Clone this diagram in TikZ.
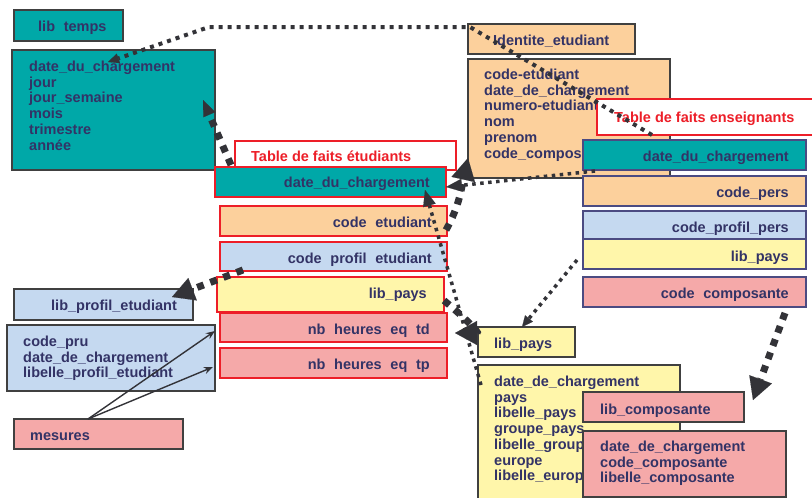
\documentclass[tikz,border=0pt]{standalone}
\usepackage{fontspec}
\setmainfont{Liberation Sans}
\usetikzlibrary{arrows.meta}
\definecolor{tealc}{RGB}{0,168,168}
\definecolor{orangec}{RGB}{252,208,156}
\definecolor{bluec}{RGB}{197,217,240}
\definecolor{yellowc}{RGB}{255,246,170}
\definecolor{pinkc}{RGB}{245,169,169}
\definecolor{redc}{RGB}{237,30,40}
\definecolor{grayb}{RGB}{64,64,64}
\definecolor{navyb}{RGB}{75,75,130}
\definecolor{txtc}{RGB}{51,51,102}
\definecolor{arrc}{RGB}{51,51,56}
\newcommand{\lns}[1]{\begin{tabular}[t]{@{}l@{}}#1\end{tabular}}
\newcommand{\gp}{\hspace{0.6em}}
\newcommand{\bx}[7]{\node[box,fill=#6,draw=#7,minimum width={(#4-#2)*1pt},minimum height={(#5-#3)*1pt}] (#1) at (#2,#3) {};}
\begin{document}
\begin{tikzpicture}[x=1pt,y=-1pt,
  box/.style={anchor=north west,inner sep=0pt,outer sep=0pt,line width=1.4pt},
  txt/.style={inner sep=0pt,text=txtc,font=\fontsize{14.5}{15.7}\selectfont\bfseries},
  rtxt/.style={txt,text=redc},
  lt/.style={txt,anchor=base west},
  rt/.style={txt,anchor=base east},
  dotA/.style={draw=arrc,line width=4pt,dash pattern=on 4pt off 5pt},
  dotB/.style={draw=arrc,line width=3.5pt,dash pattern=on 3.5pt off 4.5pt},
  thickd/.style={draw=arrc,line width=7pt,dash pattern=on 7pt off 7pt},
  bigtip/.style={-{Triangle[length=22pt,width=24pt,line width=0.1pt]}},
  medtip/.style={-{Triangle[length=16pt,width=13pt,line width=0.1pt]}},
  smalltip/.style={-{Triangle[length=11pt,width=10pt,line width=0.1pt]}},
  thinarr/.style={draw=arrc,line width=1.4pt,-{Stealth[length=9pt,width=7pt]}}]
\useasboundingbox (0,0) rectangle (812,498);
\fill[white] (0,0) rectangle (812,498);
% ---- dimension temps
\bx{libtemps}{14}{10}{123}{41}{tealc}{grayb}
\node[lt] (tlibtemps) at (38,31) {lib\gp temps};
\bx{tempsbox}{12}{50}{215}{170}{tealc}{grayb}
\node[lt] (ttemps) at (29,71.5) {\lns{date\_du\_chargement\\jour\\jour\_semaine\\mois\\trimestre\\année}};
% ---- fact table etudiants
\bx{tfe}{235}{141}{456}{170}{white}{redc}
\node[rtxt,anchor=base west] (ttfe) at (251,161.5) {Table de faits étudiants};
\bx{fdate}{215}{167}{446}{197}{tealc}{redc}
\node[rt] (tfdate) at (430,187) {date\_du\_chargement};
\bx{fcode}{220}{206}{447}{236}{orangec}{redc}
\node[rt] (tfcode) at (432,227) {code\gp etudiant};
\bx{fprof}{220}{242}{447}{271}{bluec}{redc}
\node[rt] (tfprof) at (432,263) {code\gp profil\gp etudiant};
\bx{fpays}{217}{277}{444}{312}{yellowc}{redc}
\node[rt] (tfpays) at (427,298) {lib\_pays};
\bx{ftd}{220}{313}{447}{342}{pinkc}{redc}
\node[rt] (tftd) at (430,334) {nb\gp heures\gp eq\gp td};
\bx{ftp}{220}{348}{447}{378}{pinkc}{redc}
\node[rt] (tftp) at (430,369) {nb\gp heures\gp eq\gp tp};
% ---- left dimensions
\bx{libprof}{14}{289}{193}{320}{bluec}{grayb}
\node[lt] (tlibprof) at (51,310) {lib\_profil\_etudiant};
\bx{profbox}{7}{325}{215}{391}{bluec}{grayb}
\node[lt] (tprof) at (23,346.5) {\lns{code\_pru\\date\_de\_chargement\\libelle\_profil\_etudiant}};
\bx{mesures}{14}{419}{183}{449}{pinkc}{grayb}
\node[lt] (tmesures) at (30,440) {mesures};
% ---- identite etudiant
\bx{ident}{468}{24}{635}{54}{orangec}{grayb}
\node[lt] (tident) at (493,45) {Identite\_etudiant};
\bx{identbox}{468}{59}{670}{178}{orangec}{grayb}
\node[lt] (tidentbox) at (484,79.5) {\lns{code-etudiant\\date\_de\_chargement\\numero-etudiant\\nom\\prenom\\code\_composante}};
% ---- fact table enseignants
\bx{tfens}{597}{99}{816}{135}{white}{redc}
\node[rtxt,anchor=base west] (ttfens) at (614,122) {Table de faits enseignants};
\bx{edate}{583}{140}{806}{170}{tealc}{navyb}
\node[rt] (tedate) at (789,161) {date\_du\_chargement};
\bx{epers}{583}{176}{806}{206}{orangec}{navyb}
\node[rt] (tepers) at (789,197) {code\_pers};
\bx{eprof}{583}{211}{806}{239}{bluec}{navyb}
\node[rt] (teprof) at (789,232) {code\_profil\_pers};
\bx{epays}{583}{239}{806}{269}{yellowc}{navyb}
\node[rt] (tepays) at (789,261) {lib\_pays};
\bx{ecomp}{583}{277}{806}{307}{pinkc}{navyb}
\node[rt] (tecomp) at (789,298) {code\gp composante};
% ---- pays dimension
\bx{libpays}{478}{327}{575}{357}{yellowc}{grayb}
\node[lt] (tlibpays) at (494,348) {lib\_pays};
\bx{paysbox}{478}{365}{680}{505}{yellowc}{grayb}
\node[lt] (tpays) at (494,386.5) {\lns{date\_de\_chargement\\pays\\libelle\_pays\\groupe\_pays\\libelle\_groupe\\europe\\libelle\_europe}};
% ---- composante dimension
\bx{libcomp}{583}{392}{744}{422}{pinkc}{grayb}
\node[lt] (tlibcomp) at (600,414) {lib\_composante};
\bx{compbox}{583}{431}{786}{497}{pinkc}{grayb}
\node[lt] (tcomp) at (600,451.5) {\lns{date\_de\_chargement\\code\_composante\\libelle\_composante}};
% ---- connectors
\coordinate (a1) at (470,27);
\coordinate (a2) at (209,27);
\draw[dotA,smalltip] ([shift={(55,0)}]tfens.south west) -- (a1) -- (a2) -- ([shift={(96,12)}]tempsbox.north west);
\draw[thickd,medtip] ([shift={(16,-2)}]fdate.north west) -- ([shift={(-12,50)}]tempsbox.north east);
\draw[thickd,bigtip] ([shift={(-1,9)}]fcode.east) .. controls (460,205) and (462,185) .. ([shift={(0,-20)}]identbox.south west);
\draw[dotB,medtip] ([shift={(12,1)}]edate.south west) -- ([shift={(0,-10)}]fdate.south east);
\draw[dotB,medtip] ([shift={(3,20)}]paysbox.north west) -- ([shift={(-21,-7)}]fdate.south east);
\draw[thickd,bigtip] ([shift={(0,6)}]fpays.east) .. controls (465,318) and (480,333) .. ([shift={(-23,6)}]libpays.north west);
\draw[thickd,bigtip] ([shift={(23,-1)}]fprof.south west) -- ([shift={(-21,8)}]libprof.north east);
\draw[dotB,smalltip] ([shift={(-6,21)}]epays.north west) -- ([shift={(44,0)}]libpays.north west);
\draw[thickd,bigtip] ([shift={(-21,6)}]ecomp.south east) -- ([shift={(9,8)}]libcomp.north east);
\draw[thinarr] ([shift={(74,0)}]mesures.north west) -- ([shift={(0,6)}]profbox.north east);
\draw[thinarr] ([shift={(74,0)}]mesures.north west) -- ([shift={(-2,42)}]profbox.north east);
\end{tikzpicture}
\end{document}
